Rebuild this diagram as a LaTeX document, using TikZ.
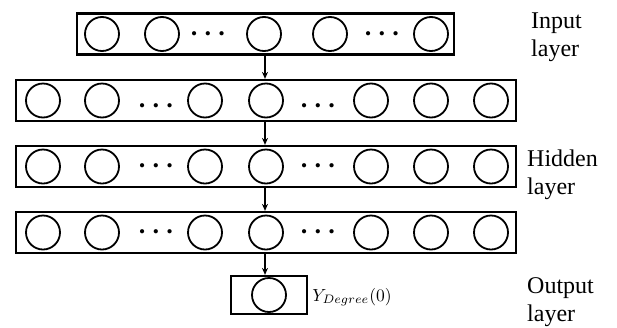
\documentclass[tikz,border=0pt]{standalone}
\usepackage{fontspec}
\setmainfont{Liberation Serif}
\usetikzlibrary{arrows.meta}

\tikzset{
  layerbox/.style={draw, line width=2.2pt, rectangle, inner sep=0pt, minimum height=41pt},
  neuron/.style={draw, line width=1.8pt, circle, inner sep=0pt, minimum size=34pt},
  gap/.style={inner sep=0pt, scale=2.7, font=\mathversion{bold}},
  flow/.style={line width=1.6pt, -{Stealth[length=7pt, width=6pt]}},
  sidelabel/.style={anchor=north west, inner sep=0pt, align=left, font=\fontsize{24}{28}\selectfont},
}

\begin{document}
\begin{tikzpicture}[x=1pt, y=-1pt]
  \useasboundingbox (0,0) rectangle (617,327);

  % input layer
  \node[layerbox, minimum width=377pt] (inbox) at (265.5,34) {};
  \foreach \x [count=\i] in {102,162,264,330,431}
    \node[neuron] (in\i) at (\x,34) {};
  \node[gap] (ind1) at (208,34) {$\cdots$};
  \node[gap] (ind2) at (382,34) {$\cdots$};

  % hidden layers
  \foreach \r/\y/\dy in {1/100.5/6, 2/166.5/0, 3/232.5/0} {
    \node[layerbox, minimum width=500pt] (hbox\r) at (266,\y) {};
    \foreach \x [count=\i] in {43,102,205,266,371,431,491}
      \node[neuron] (h\r n\i) at (\x,\y) {};
    \node[gap] (h\r d1) at (156,\y+\dy) {$\cdots$};
    \node[gap] (h\r d2) at (318,\y+\dy) {$\cdots$};
  }

  % output layer
  \node[layerbox, minimum width=76pt, minimum height=38pt] (outbox) at (269,295) {};
  \node[neuron] (out) at (269,295) {};
  \node[anchor=west, inner sep=0pt, scale=1.75] (ylab) at (312,297) {$Y_{Degree}(0)$};

  % connections between layers
  \coordinate (axis) at (265,0);
  \draw[flow] (inbox.south -| axis) -- (hbox1.north -| axis);
  \draw[flow] (hbox1.south -| axis) -- (hbox2.north -| axis);
  \draw[flow] (hbox2.south -| axis) -- (hbox3.north -| axis);
  \draw[flow] (hbox3.south -| axis) -- (outbox.north -| axis);

  % layer names
  \node[sidelabel] (lin) at (531,13) {Input\\layer};
  \node[sidelabel] (lhid) at (527,150) {Hidden\\layer};
  \node[sidelabel] (lout) at (527,277) {Output\\layer};
\end{tikzpicture}
\end{document}
